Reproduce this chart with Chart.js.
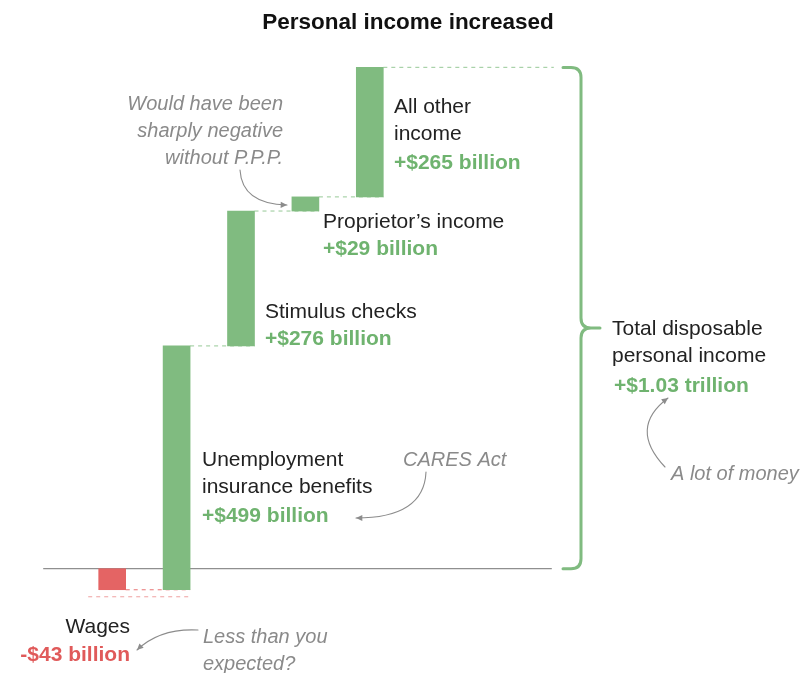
<!DOCTYPE html>
<html>
<head>
<meta charset="utf-8">
<script src="https://cdn.jsdelivr.net/npm/chart.js@4"></script>
<style>
html,body{margin:0;padding:0;background:#fff;}
#wrap{width:807px;height:673px;position:relative;}
</style>
</head>
<body>
<div id="wrap"><canvas id="c" width="807" height="673"></canvas></div>
<script>
// ---- data ----
const categories = ["Wages", "Unemployment insurance benefits", "Stimulus checks", "Proprietor’s income", "All other income"];
const changes = [-43, 499, 276, 29, 265]; // billions of dollars
const labelLines = [["Wages"], ["Unemployment", "insurance benefits"], ["Stimulus checks"], ["Proprietor’s income"], ["All other", "income"]];
const valueLabels = ["-$43 billion", "+$499 billion", "+$276 billion", "+$29 billion", "+$265 billion"];
const totalLines = ["Total disposable", "personal income"];
const totalLabel = "+$1.03 trillion";
const chartTitle = "Personal income increased";
const notePPP = ["Would have been", "sharply negative", "without P.P.P."];
const noteCares = ["CARES Act"];
const noteMoney = ["A lot of money"];
const noteWages = ["Less than you", "expected?"];

// build floating ranges
const ranges = [];
let run = 0;
changes.forEach(v => { ranges.push([run, run + v]); run += v; });
const total = run;

const GREEN = "#80bb80";
const GREEN_TXT = "#6fb36f";
const RED = "#e46464";
const RED_TXT = "#e05a5a";
const DARK = "#222";
const GRAY = "#8a8a8a";
const FONT = "'Liberation Sans', Arial, sans-serif";
const DY = 2; // text baseline nudge

function arrow(ctx, x0, y0, cx, cy, x1, y1) {
  ctx.save();
  ctx.strokeStyle = "#8c8c8c"; ctx.fillStyle = "#8c8c8c"; ctx.lineWidth = 1.1;
  ctx.beginPath(); ctx.moveTo(x0, y0); ctx.quadraticCurveTo(cx, cy, x1, y1); ctx.stroke();
  const a = Math.atan2(y1 - cy, x1 - cx);
  ctx.beginPath();
  ctx.moveTo(x1, y1);
  ctx.lineTo(x1 - 7 * Math.cos(a - 0.45), y1 - 7 * Math.sin(a - 0.45));
  ctx.lineTo(x1 - 7 * Math.cos(a + 0.45), y1 - 7 * Math.sin(a + 0.45));
  ctx.closePath(); ctx.fill();
  ctx.restore();
}
function lines(ctx, arr, x, y, lh) { arr.forEach((t, i) => ctx.fillText(t, x, y + DY + i * lh)); }

const overlay = {
  id: "overlay",
  beforeDatasetsDraw(chart) {
    const ctx = chart.ctx, xs = chart.scales.x, ys = chart.scales.y;
    const half = 13.5;
    const y0 = ys.getPixelForValue(0);
    ctx.save();
    // baseline
    ctx.strokeStyle = "#8f8f8f"; ctx.lineWidth = 1.2;
    ctx.beginPath(); ctx.moveTo(xs.getPixelForValue(0) - 69, y0); ctx.lineTo(xs.getPixelForValue(4) + 182, y0); ctx.stroke();
    // connectors
    ctx.setLineDash([4, 4]); ctx.lineWidth = 1.2;
    for (let i = 0; i < ranges.length - 1; i++) {
      const yy = ys.getPixelForValue(ranges[i][1]);
      ctx.strokeStyle = changes[i] < 0 ? "#ec8a8a" : "#a8d2a8";
      ctx.beginPath(); ctx.moveTo(xs.getPixelForValue(i) + half, yy); ctx.lineTo(xs.getPixelForValue(i + 1) + half, yy); ctx.stroke();
    }
    // lower light pink dashed line under wages
    const yl = ys.getPixelForValue(changes[0]) + 7;
    ctx.strokeStyle = "#f2b0b0";
    ctx.beginPath(); ctx.moveTo(xs.getPixelForValue(0) - 24, yl); ctx.lineTo(xs.getPixelForValue(1) + half, yl); ctx.stroke();
    // top dashed to brace
    const yt = ys.getPixelForValue(total);
    ctx.strokeStyle = "#a8d2a8";
    ctx.beginPath(); ctx.moveTo(xs.getPixelForValue(4) + half, yt); ctx.lineTo(xs.getPixelForValue(4) + 184, yt); ctx.stroke();
    ctx.restore();
  },
  afterDraw(chart) {
    const ctx = chart.ctx, xs = chart.scales.x, ys = chart.scales.y;
    const y0 = ys.getPixelForValue(0), yt = ys.getPixelForValue(total);
    ctx.save();
    // brace
    const bx = 581, r = 10, ym = (y0 + yt) / 2 + 10;
    ctx.strokeStyle = GREEN; ctx.lineWidth = 3; ctx.lineCap = "round";
    ctx.beginPath();
    ctx.moveTo(563, yt); ctx.lineTo(bx - r, yt); ctx.quadraticCurveTo(bx, yt, bx, yt + r);
    ctx.lineTo(bx, ym - r); ctx.quadraticCurveTo(bx, ym, bx + r, ym); ctx.lineTo(600, ym);
    ctx.moveTo(bx + r, ym); ctx.quadraticCurveTo(bx, ym, bx, ym + r);
    ctx.lineTo(bx, y0 - r); ctx.quadraticCurveTo(bx, y0, bx - r, y0); ctx.lineTo(563, y0);
    ctx.stroke();

    // title
    ctx.fillStyle = "#111"; ctx.textAlign = "center"; ctx.textBaseline = "middle";
    ctx.font = "bold 22.5px " + FONT;
    ctx.fillText(chartTitle, 408, 21 + DY);

    const LH = 27;
    ctx.textAlign = "left";
    // label positions [x, y of first line center, value y]
    const pos = [
      [130, 625, 653],
      [202, 458, 514],
      [265, 310, 337],
      [323, 220, 247],
      [394, 105, 161]
    ];
    labelLines.forEach((ls, i) => {
      ctx.textAlign = i === 0 ? "right" : "left";
      ctx.font = "21px " + FONT; ctx.fillStyle = DARK;
      lines(ctx, ls, pos[i][0], pos[i][1], LH);
      ctx.font = "bold 21px " + FONT; ctx.fillStyle = changes[i] < 0 ? RED_TXT : GREEN_TXT;
      ctx.fillText(valueLabels[i], pos[i][0], pos[i][2] + DY);
    });
    ctx.textAlign = "left";
    ctx.font = "21px " + FONT; ctx.fillStyle = DARK;
    lines(ctx, totalLines, 612, 327, LH);
    ctx.font = "bold 21px " + FONT; ctx.fillStyle = GREEN_TXT;
    ctx.fillText(totalLabel, 614, 384 + DY);

    // notes
    ctx.font = "italic 20px " + FONT; ctx.fillStyle = GRAY;
    ctx.textAlign = "right";
    lines(ctx, notePPP, 283, 102, LH);
    ctx.textAlign = "left";
    lines(ctx, noteCares, 403, 458, LH);
    lines(ctx, noteMoney, 671, 472, LH);
    lines(ctx, noteWages, 203, 635, LH);

    arrow(ctx, 198, 630, 160, 628, 137, 650);
    arrow(ctx, 240, 170, 242, 204, 287, 205);
    arrow(ctx, 426, 472, 424, 518, 356, 518);
    arrow(ctx, 665, 467, 628, 428, 668, 398);
    ctx.restore();
  }
};

new Chart(document.getElementById("c"), {
  type: "bar",
  data: {
    labels: categories,
    datasets: [{
      data: ranges,
      backgroundColor: changes.map(v => v < 0 ? RED : GREEN),
      borderWidth: 0,
      borderSkipped: false,
      barThickness: 27
    }]
  },
  options: {
    responsive: false,
    devicePixelRatio: 1,
    animation: false,
    layout: { padding: { left: 80, right: 405, top: 41, bottom: 31 } },
    scales: {
      x: { display: false, offset: true },
      y: { display: false, min: -150, max: 1080 }
    },
    plugins: { legend: { display: false }, tooltip: { enabled: false }, title: { display: false } }
  },
  plugins: [overlay]
});
</script>
</body>
</html>
